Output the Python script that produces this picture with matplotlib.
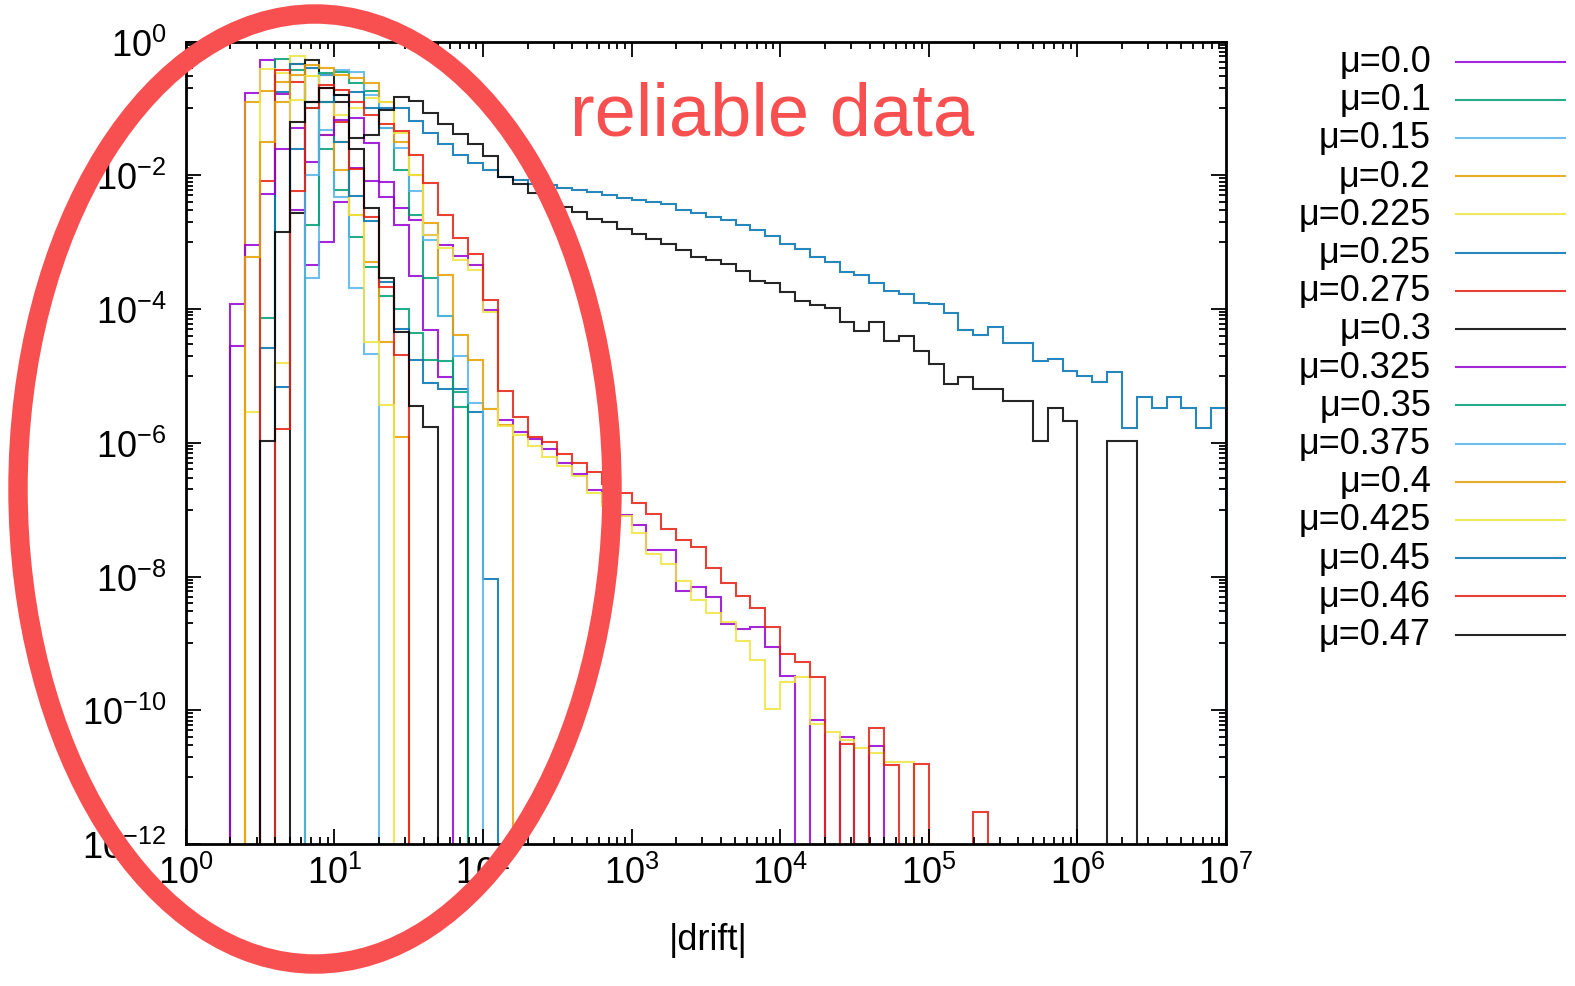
import numpy as np
import matplotlib
matplotlib.use("Agg")
import matplotlib.pyplot as plt
from matplotlib.patches import Ellipse
from matplotlib.ticker import FixedLocator, FuncFormatter, NullFormatter

plt.rcParams['font.family'] = ['Liberation Sans', 'DejaVu Sans']
plt.rcParams['mathtext.fontset'] = 'custom'
plt.rcParams['mathtext.rm'] = 'Liberation Sans'
plt.rcParams['mathtext.it'] = 'Liberation Sans:italic'

# ---------------- data ----------------
# histogram bins are 0.1 wide in log10(|drift|); bin k spans [10^(0.1k), 10^(0.1(k+1))]
# values are log10 of the bin height, None = empty bin
labels = ["μ=0.0", "μ=0.1", "μ=0.15", "μ=0.2", "μ=0.225", "μ=0.25", "μ=0.275", "μ=0.3",
          "μ=0.325", "μ=0.35", "μ=0.375", "μ=0.4", "μ=0.425", "μ=0.45", "μ=0.46", "μ=0.47"]
colors = ["#9400D3", "#009E73", "#56B4E9", "#E69F00", "#F0E442", "#0072B2", "#E51E10", "#000000",
          "#9400D3", "#009E73", "#56B4E9", "#E69F00", "#F0E442", "#0072B2", "#E51E10", "#000000"]
start_bin = [3, 5, 8, 4, 4, 5, 5, 7, 3, 8, 8, 4, 6, 6, 6, 5]

mu_000 = [-3.92, -0.77, -0.27, -0.78, -2.52, -3.34, -3.0, -2.4, -1.89, -2.08, -2.32, -2.74, -3.51, -4.31, -5.01]
mu_010 = [-4.14, -0.26, -0.42, -1.0, -1.6, -2.22, -2.93, -3.37, -3.8, -4.0, -4.36, -4.76, -4.78, -5.46]
mu_015 = [-3.54, -1.32, -2.33, -3.69, -4.67]
mu_020 = [-0.90, -0.74, -0.6, -0.33, -0.9, -1.4, -1.92, -2.6, -3.3, -4.5, -5.91]
mu_0225 = [-5.54, -0.41, -0.47, -0.21, -0.52, -0.9, -1.5, -2.6, -4.5, -5.44]
mu_025 = [-4.58, -0.75, -0.33, -0.4, -0.9, -1.5, -2.31, -2.69, -3.59, -4.3, -4.77, -5.11, -5.2, -5.19, -5.54, -8.03]
mu_0275 = [-2.09, -0.42, -0.6, -0.9, -0.7, -1.2, -1.9, -2.62, -3.67, -4.69]
mu_030 = [-2.57, -0.27, -0.5, -0.9, -1.6, -2.49, -3.54, -4.34, -5.45, -5.76]
mu_0325 = [-4.56, -3.04, -2.28, -1.6, -1.3, -1.8, -1.4, -1.17, -1.15, -1.52, -2.10, -2.49, -2.67, -2.89,
           -3.04, -3.21, -3.34, -4.01, -5.66, -5.84, -5.95, -6.10, -6.30, -6.46, -6.71, -6.885, -7.085,
           -7.235, -7.61, -7.61, -8.21, -8.16, -8.31, -8.71, -8.785, -8.76, -9.06, -9.485, None, -10.15,
           None, -10.40, None, -10.54]
mu_035 = [-2.75, -0.47, -0.46, -0.62, -0.74, -1.29, -1.92, -2.6, -3.54, -4.1, -5.24]
mu_0375 = [-2.0, -0.5, -0.42, -0.45, -0.8, -1.3, -1.59, -2.24, -2.97, -4.1, -4.71, -5.41]
mu_040 = [-3.22, -1.5, -0.9, -0.5, -0.35, -0.4, -0.5, -0.55, -0.62, -0.90, -1.5, -1.99, -2.72, -3.49,
          -4.39, -4.76, -5.49, -5.74]
mu_0425 = [-4.81, -0.87, -0.52, -0.9, -1.1, -1.0, -0.85, -0.9, -1.37, -2.0, -2.89, -3.09, -3.26, -3.41,
           -4.04, -5.75, -5.89, -6.05, -6.21, -6.35, -6.5, -6.75, -6.95, -7.1, -7.35, -7.66, -7.82, -8.06,
           -8.35, -8.55, -8.685, -8.97, -9.25, -9.985, -9.585, -9.51, -10.2, -10.32, -10.45, -10.56,
           -10.64, -10.77, -10.77]
mu_045 = [-5.17, -1.6, -0.9, -0.9, -0.8, -0.75, -1.0, -1.0, -0.99, -1.19, -1.37, -1.54, -1.69, -1.82,
          -1.92, -2.03, -2.065, -2.125, -2.15, -2.185, -2.225, -2.25, -2.29, -2.335, -2.375, -2.405,
          -2.435, -2.515, -2.565, -2.625, -2.675, -2.75, -2.815, -2.915, -3.035, -3.10, -3.215, -3.30,
          -3.45, -3.485, -3.615, -3.725, -3.775, -3.915, -3.925, -4.06, -4.32, -4.39, -4.27, -4.51,
          -4.51, -4.78, -4.75, -4.93, -5.0, -5.09, -4.94, -5.78, -5.31, -5.48, -5.31, -5.48, -5.78, -5.48]
mu_046 = [-5.79, -2.23, -1.0, -0.645, -0.72, -0.9, -1.1, -1.24, -1.34, -1.69, -2.12, -2.59, -2.94, -3.18,
          -3.87, -5.23, -5.61, -5.91, -5.985, -6.17, -6.30, -6.435, -6.61, -6.745, -6.895, -7.07, -7.295,
          -7.45, -7.56, -7.875, -8.10, -8.285, -8.47, -8.76, -9.16, -9.285, -9.50, None, -10.51, None,
          -10.27, -10.82, None, -10.80, None, None, None, -11.52]
mu_047 = [-5.97, -2.85, -1.2, -0.9, -0.7, -0.8, -1.45, -1.40, -1.02, -0.83, -0.89, -1.07, -1.23, -1.39,
          -1.54, -1.71, -2.02, -2.135, -2.265, -2.375, -2.475, -2.55, -2.65, -2.70, -2.80, -2.885, -2.95,
          -3.025, -3.115, -3.215, -3.265, -3.325, -3.435, -3.575, -3.605, -3.75, -3.885, -3.935, -3.985,
          -4.20, -4.325, -4.20, -4.475, -4.405, -4.635, -4.825, -5.12, -5.01, -5.19, -5.19, -5.37, -5.37,
          -5.97, -5.48, -5.67, None, None, -5.97, -5.97]

series = [mu_000, mu_010, mu_015, mu_020, mu_0225, mu_025, mu_0275, mu_030,
          mu_0325, mu_035, mu_0375, mu_040, mu_0425, mu_045, mu_046, mu_047]

x_major = [0, 1, 2, 3, 4, 5, 6, 7]
y_major = [0, -2, -4, -6, -8, -10, -12]

# ---------------- figure ----------------
W, H = 1575, 987
fig = plt.figure(figsize=(W / 100, H / 100), dpi=100)
L, R, T, B = 185.7, 1226.0, 42.5, 845.0
ax = fig.add_axes([L / W, 1 - B / H, (R - L) / W, (B - T) / H])

TINY = 1e-30
for vals, k0, col in zip(series, start_bin, colors):
    lv = np.array([np.nan if v is None else v for v in vals], dtype=float)
    h = np.where(np.isnan(lv), TINY, 10.0 ** lv)
    edges = 10.0 ** (0.1 * np.arange(k0, k0 + len(h) + 1))
    ax.stairs(h, edges, baseline=TINY, color=col, lw=1.5, alpha=0.85)

ax.set_xscale('log')
ax.set_yscale('log')
ax.set_xlim(1, 1e7)
ax.set_ylim(1e-12, 1)

fmt = FuncFormatter(lambda v, p: r'$\mathregular{10^{%d}}$' % int(round(np.log10(v))))
ax.xaxis.set_major_locator(FixedLocator([10.0 ** e for e in x_major]))
ax.xaxis.set_minor_locator(FixedLocator([m * 10.0 ** n for n in range(0, 7) for m in range(2, 10)]))
ax.yaxis.set_major_locator(FixedLocator([10.0 ** e for e in y_major]))
ax.yaxis.set_minor_locator(FixedLocator([m * 10.0 ** n for n in range(-11, 0, 2) for m in range(1, 10)]))
ax.xaxis.set_major_formatter(fmt)
ax.yaxis.set_major_formatter(fmt)
ax.xaxis.set_minor_formatter(NullFormatter())
ax.yaxis.set_minor_formatter(NullFormatter())
ax.tick_params(which='both', direction='in', top=True, right=True, width=1.3, labelsize=26)
ax.tick_params(which='major', length=11)
ax.tick_params(which='minor', length=5)
ax.tick_params(axis='y', pad=14)
ax.tick_params(axis='x', pad=8)
for sp in ax.spines.values():
    sp.set_linewidth(2.0)

# ---------------- overlay (legend, label, annotation) ----------------
ov = fig.add_axes([0, 0, 1, 1])
ov.set_xlim(0, W)
ov.set_ylim(H, 0)
ov.axis('off')
ov.patch.set_alpha(0)
ov.set_zorder(10)

ov.text(708, 940, '|drift|', ha='center', va='center', fontsize=26)

for i, (lab, col) in enumerate(zip(labels, colors)):
    yy = 62.5 + 38.2 * i
    ov.text(1431, yy, lab, ha='right', va='center', fontsize=26)
    ov.plot([1456, 1565], [yy, yy], color=col, lw=1.5, alpha=0.85)

ov.text(570, 135, 'reliable data', fontsize=53.5, color='#F85050', ha='left', va='baseline')
ov.add_patch(Ellipse((315, 490), 594, 950, fill=False, ec='#F85050', lw=14))

fig.savefig('out.png', dpi=100)
